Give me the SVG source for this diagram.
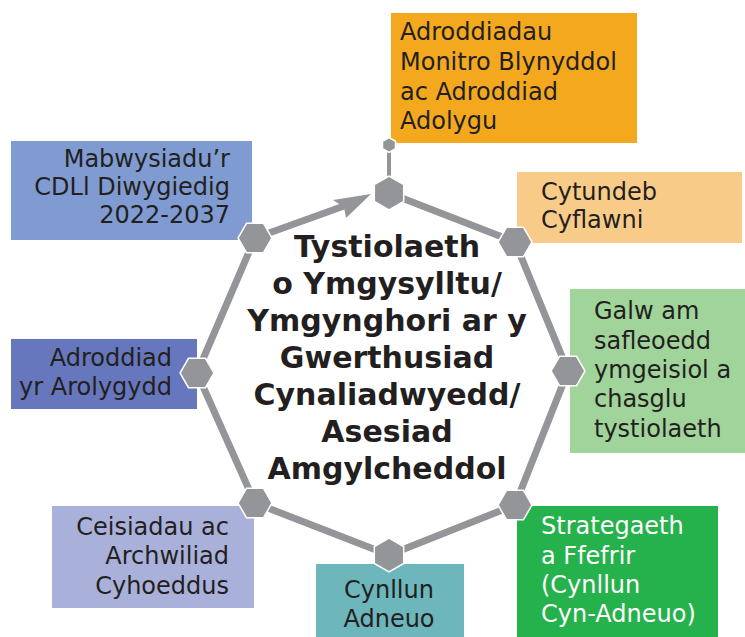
<svg xmlns="http://www.w3.org/2000/svg" xmlns:xlink="http://www.w3.org/1999/xlink" width="745" height="637" viewBox="0 0 745 637">
<style>
.box text{font-family:"DejaVu Sans","Liberation Sans",sans-serif;font-size:24px;fill:#231F20}
.title{font-family:"DejaVu Sans","Liberation Sans",sans-serif;font-size:30px;font-weight:bold;fill:#231F20;text-anchor:middle}
.hex{fill:#939598;stroke:#ffffff;stroke-width:1.5}
.conn{stroke:#939598;stroke-width:7;fill:none;stroke-linecap:butt}
.r{text-anchor:end}
.m{text-anchor:middle}
</style>
<defs>
<polygon id="hf" points="17,0 8.5,14.7 -8.5,14.7 -17,0 -8.5,-14.7 8.5,-14.7"/>
<polygon id="hp" points="0,-17 14.7,-8.5 14.7,8.5 0,17 -14.7,8.5 -14.7,-8.5"/>
<polygon id="hs" points="0,-7.5 6.5,-3.75 6.5,3.75 0,7.5 -6.5,3.75 -6.5,-3.75"/>
</defs>
<rect width="745" height="637" fill="#ffffff"/>

<g id="n-monitro" class="box">
<rect x="391" y="13" width="246" height="130" fill="#F4A81D"/>
<text x="400" y="40">Adroddiadau</text>
<text x="400" y="70">Monitro Blynyddol</text>
<text x="400" y="100">ac Adroddiad</text>
<text x="400" y="129">Adolygu</text>
</g>
<g id="n-mabwysiadu" class="box">
<rect x="11" y="141" width="241" height="99" fill="#7F9BD1"/>
<text class="r" x="230" y="167">Mabwysiadu’r</text>
<text class="r" x="230" y="195">CDLl Diwygiedig</text>
<text class="r" x="230" y="223">2022-2037</text>
</g>
<g id="n-cytundeb" class="box">
<rect x="517" y="172" width="225" height="71" fill="#F9CB89"/>
<text x="541" y="200">Cytundeb</text>
<text x="541" y="228">Cyflawni</text>
</g>
<g id="n-galw" class="box">
<rect x="570" y="289" width="175" height="164" fill="#A0D49B"/>
<text x="594" y="319">Galw am</text>
<text x="594" y="349">safleoedd</text>
<text x="594" y="378">ymgeisiol a</text>
<text x="594" y="407">chasglu</text>
<text x="594" y="437">tystiolaeth</text>
</g>
<g id="n-arolygydd" class="box">
<rect x="11" y="339" width="186" height="70" fill="#6677BD"/>
<text class="r" x="172" y="366">Adroddiad</text>
<text class="r" x="172" y="395">yr Arolygydd</text>
</g>
<g id="n-ceisiadau" class="box">
<rect x="52" y="506" width="202" height="102" fill="#A9B1DB"/>
<text class="r" x="229" y="535">Ceisiadau ac</text>
<text class="r" x="229" y="564">Archwiliad</text>
<text class="r" x="229" y="594">Cyhoeddus</text>
</g>
<g id="n-adneuo" class="box">
<rect x="316" y="564" width="148" height="73" fill="#6CB6BC"/>
<text class="m" x="389" y="598">Cynllun</text>
<text class="m" x="389" y="627">Adneuo</text>
</g>
<g id="n-strategaeth" class="box">
<rect x="517" y="506" width="201" height="131" fill="#25B14B"/>
<text x="541" y="534" fill="#ffffff" style="fill:#ffffff">Strategaeth</text>
<text x="541" y="564" style="fill:#ffffff">a Ffefrir</text>
<text x="541" y="593" style="fill:#ffffff">(Cynllun</text>
<text x="541" y="622" style="fill:#ffffff">Cyn-Adneuo)</text>
</g>

<g id="connectors">
<line class="conn" x1="389" y1="145" x2="389" y2="193" style="stroke-width:4"/>
<polyline class="conn" points="389,193 515,242 568,371 515,505 389,555 255,503 197,373 255,238"/>
<line class="conn" x1="255" y1="238" x2="344" y2="206"/>
<polygon points="371,194 333,200 344,207 346,218" fill="#939598"/>
</g>

<g id="hexes">
<use href="#hs" class="hex" transform="translate(389,145)"/>
<use href="#hp" class="hex" transform="translate(389,193)"/>
<use href="#hf" class="hex" transform="translate(515,242)"/>
<use href="#hf" class="hex" transform="translate(568,371)"/>
<use href="#hf" class="hex" transform="translate(515,505)"/>
<use href="#hp" class="hex" transform="translate(389,555)"/>
<use href="#hf" class="hex" transform="translate(255,503)"/>
<use href="#hf" class="hex" transform="translate(197,373)"/>
<use href="#hf" class="hex" transform="translate(255,238)"/>
</g>

<g id="n-centre">
<text class="title" x="387" y="257">Tystiolaeth</text>
<text class="title" x="387" y="294">o Ymgysylltu/</text>
<text class="title" x="387" y="331">Ymgynghori ar y</text>
<text class="title" x="387" y="368">Gwerthusiad</text>
<text class="title" x="387" y="405">Cynaliadwyedd/</text>
<text class="title" x="387" y="442">Asesiad</text>
<text class="title" x="387" y="479">Amgylcheddol</text>
</g>
</svg>
